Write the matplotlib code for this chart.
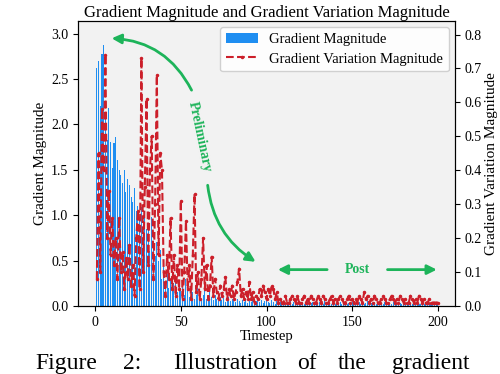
import numpy as np
import matplotlib
matplotlib.use('Agg')
import matplotlib.pyplot as plt

# ---------------- data ----------------
timesteps = list(range(1, 201))

# left axis: gradient magnitude per timestep
grad_mag = [
    2.62, 2.70, 2.20, 2.78, 2.87, 2.10, 1.83, 2.18, 1.81, 1.52,
    1.80, 1.86, 1.61, 1.50, 1.44, 1.35, 1.50, 1.25, 1.40, 1.33,
    1.20, 1.15, 1.30, 1.05, 1.10, 0.95, 1.09, 0.80, 1.00, 0.85,
    0.90, 0.60, 0.98, 0.72, 0.55, 0.70, 0.50, 0.62, 0.30, 0.45,
    0.28, 0.35, 0.20, 0.30, 0.18, 0.25, 0.30, 0.15, 0.28, 0.20,
    0.22, 0.12, 0.30, 0.18, 0.10, 0.25, 0.15, 0.08, 0.12, 0.20,
    0.10, 0.06, 0.12, 0.18, 0.08, 0.05, 0.15, 0.10, 0.06, 0.12,
    0.08, 0.05, 0.10, 0.06, 0.09, 0.04, 0.07, 0.10, 0.05, 0.08,
    0.06, 0.04, 0.08, 0.05, 0.03, 0.07, 0.04, 0.06, 0.03, 0.05,
    0.04, 0.06, 0.03, 0.05, 0.08, 0.04, 0.06, 0.03, 0.05, 0.07,
    0.04, 0.03, 0.06, 0.04, 0.02, 0.05, 0.03, 0.04, 0.06, 0.03,
    0.02, 0.04, 0.03, 0.05, 0.02, 0.04, 0.03, 0.02, 0.05, 0.03,
    0.04, 0.02, 0.03, 0.05, 0.02, 0.03, 0.04, 0.02, 0.03, 0.02,
    0.04, 0.03, 0.02, 0.05, 0.03, 0.02, 0.04, 0.02, 0.03, 0.02,
    0.03, 0.02, 0.04, 0.02, 0.03, 0.05, 0.02, 0.03, 0.02, 0.04,
    0.02, 0.03, 0.02, 0.04, 0.02, 0.03, 0.02, 0.03, 0.05, 0.02,
    0.03, 0.02, 0.04, 0.02, 0.03, 0.02, 0.03, 0.02, 0.04, 0.02,
    0.03, 0.02, 0.02, 0.04, 0.02, 0.03, 0.02, 0.03, 0.02, 0.02,
    0.03, 0.02, 0.04, 0.02, 0.02, 0.03, 0.02, 0.03, 0.02, 0.02,
    0.03, 0.02, 0.02, 0.03, 0.02, 0.02, 0.03, 0.02, 0.02, 0.02,
]

# right axis: gradient variation magnitude per timestep
grad_var = [
    0.08, 0.45, 0.10, 0.58, 0.40, 0.74, 0.20, 0.34, 0.15, 0.26,
    0.12, 0.20, 0.08, 0.26, 0.10, 0.16, 0.05, 0.14, 0.08, 0.18,
    0.06, 0.12, 0.03, 0.20, 0.28, 0.05, 0.73, 0.10, 0.35, 0.61,
    0.12, 0.40, 0.50, 0.08, 0.30, 0.68, 0.15, 0.45, 0.40, 0.10,
    0.03, 0.15, 0.08, 0.26, 0.05, 0.15, 0.03, 0.12, 0.05, 0.31,
    0.02, 0.10, 0.25, 0.05, 0.12, 0.02, 0.15, 0.33, 0.04, 0.10,
    0.02, 0.08, 0.20, 0.05, 0.12, 0.02, 0.06, 0.145, 0.03, 0.08,
    0.04, 0.02, 0.06, 0.03, 0.05, 0.085, 0.02, 0.05, 0.03, 0.06,
    0.02, 0.04, 0.07, 0.11, 0.03, 0.05, 0.02, 0.04, 0.02, 0.07,
    0.02, 0.04, 0.01, 0.03, 0.02, 0.05, 0.03, 0.06, 0.04, 0.02,
    0.05, 0.03, 0.06, 0.05, 0.02, 0.04, 0.01, 0.02, 0.01, 0.01,
    0.03, 0.01, 0.01, 0.02, 0.03, 0.02, 0.01, 0.03, 0.01, 0.01,
    0.02, 0.03, 0.01, 0.02, 0.01, 0.03, 0.02, 0.01, 0.01, 0.03,
    0.02, 0.01, 0.03, 0.02, 0.01, 0.01, 0.02, 0.03, 0.01, 0.02,
    0.01, 0.02, 0.03, 0.02, 0.01, 0.01, 0.02, 0.03, 0.01, 0.02,
    0.01, 0.02, 0.01, 0.03, 0.02, 0.01, 0.04, 0.02, 0.03, 0.01,
    0.02, 0.01, 0.03, 0.02, 0.01, 0.01, 0.02, 0.03, 0.02, 0.01,
    0.01, 0.02, 0.03, 0.02, 0.01, 0.02, 0.01, 0.03, 0.02, 0.01,
    0.02, 0.01, 0.01, 0.03, 0.02, 0.01, 0.02, 0.01, 0.03, 0.02,
    0.01, 0.02, 0.01, 0.01, 0.02, 0.01, 0.01, 0.01, 0.01, 0.01,
]

x_ticks = [0, 50, 100, 150, 200]
left_ticks = [0.0, 0.5, 1.0, 1.5, 2.0, 2.5, 3.0]
right_ticks = [0.0, 0.1, 0.2, 0.3, 0.4, 0.5, 0.6, 0.7, 0.8]

# words of the (cut-off) page caption under the chart
caption_words = ['Figure', '2:', 'Illustration', 'of', 'the', 'gradient']

# ---------------- styling ----------------
plt.rcParams['font.family'] = ['Liberation Serif', 'DejaVu Serif']
plt.rcParams['mathtext.fontset'] = 'stix'

BLUE = '#1f8ef1'
RED = '#cc1f2a'
GREEN = '#1db45a'

fig = plt.figure(figsize=(5.0, 3.74), dpi=100)
ax = fig.add_axes([0.156, 0.182, 0.754, 0.762])
ax.set_facecolor('#f2f2f2')

# bars on the left axis
bars = ax.bar(timesteps, grad_mag, width=0.6, color=BLUE,
              edgecolor='none', label='Gradient Magnitude')
ax.set_xlim(-10, 210)
ax.set_ylim(0, 3.14)
ax.set_xticks(x_ticks)
ax.set_yticks(left_ticks)
ax.tick_params(labelsize=10)
ax.set_xlabel('Timestep', fontsize=10.5, labelpad=1)
ax.set_ylabel('Gradient Magnitude', fontsize=11, labelpad=3)
ax.set_title('Gradient Magnitude and Gradient Variation Magnitude',
             fontsize=12, pad=3)

# dashed line on the right axis
ax2 = ax.twinx()
line, = ax2.plot(timesteps, grad_var, color=RED, linestyle='--',
                 linewidth=1.5, marker='.', markersize=3,
                 label='Gradient Variation Magnitude')
ax2.set_ylim(0, 0.84)
ax2.set_yticks(right_ticks)
ax2.tick_params(labelsize=10)
ax2.set_ylabel('Gradient Variation Magnitude', fontsize=11, labelpad=2)

ax2.legend([bars, line],
           ['Gradient Magnitude', 'Gradient Variation Magnitude'],
           loc='upper right', fontsize=10.5, framealpha=0.9,
           handlelength=2.2, borderaxespad=0.4, labelspacing=0.45)

# ---------------- annotations (left axis coords) ----------------
arrow_kw = dict(arrowstyle='-|>', color=GREEN, lw=2, mutation_scale=14)

ax.annotate('', xy=(8, 2.95), xytext=(57, 2.35),
            arrowprops=dict(connectionstyle='arc3,rad=0.3', **arrow_kw))
ax.annotate('', xy=(95, 0.47), xytext=(65.5, 1.36),
            arrowprops=dict(connectionstyle='arc3,rad=0.25', **arrow_kw))
ax.text(61, 1.86, 'Preliminary', color=GREEN, fontsize=10,
        fontweight='bold', rotation=-78, ha='center', va='center')

ax.text(153, 0.40, 'Post', color=GREEN, fontsize=10,
        fontweight='bold', ha='center', va='center')
ax.annotate('', xy=(105, 0.40), xytext=(137, 0.40), arrowprops=arrow_kw)
ax.annotate('', xy=(201, 0.40), xytext=(169, 0.40), arrowprops=arrow_kw)

# caption words spread like the justified line in the page
caption_x = [35, 123, 173, 297, 338, 392]
for word, px in zip(caption_words, caption_x):
    fig.text(px / 500, 5 / 374, word, fontsize=17,
             ha='left', va='baseline')

fig.savefig('out.png', dpi=100)
